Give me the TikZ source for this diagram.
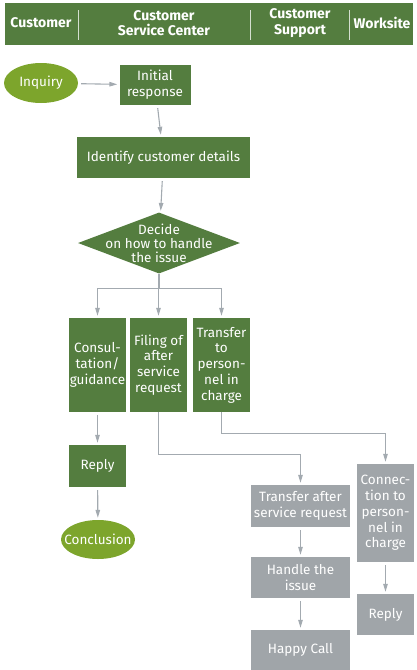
\documentclass[tikz,border=0pt]{standalone}
\usepackage{fontspec}
\setmainfont{Fira Sans}
\usetikzlibrary{shapes.geometric,arrows.meta}
\definecolor{leaf}{HTML}{547D3F}
\definecolor{olive}{HTML}{7DA52C}
\definecolor{slate}{HTML}{A0A5A9}
\definecolor{wire}{HTML}{A3AAB0}
\tikzset{
  hdr/.style={text=white,align=center,font=\fontsize{14}{15.5}\selectfont\bfseries},
  gbox/.style={fill=leaf,text=white,align=center,inner sep=0pt,font=\fontsize{13.5}{15.8}\selectfont},
  sbox/.style={fill=slate,text=white,align=center,inner sep=0pt,font=\fontsize{13.5}{15.8}\selectfont},
  oval/.style={ellipse,fill=olive,text=white,inner sep=0pt,font=\fontsize{13.5}{15.8}\selectfont},
  arr/.style={draw=wire,line width=1.1pt,-{Triangle[length=8pt,width=4.5pt]},shorten >=2pt},
  wireline/.style={draw=wire,line width=1.1pt}
}
\begin{document}
\begin{tikzpicture}[x=1pt,y=-1pt]
  \useasboundingbox (0,0) rectangle (417,670);
  % header
  \fill[leaf] (5,3) rectangle (413,45);
  \draw[white!75!leaf,line width=0.8pt] (78,10) -- (78,40) (250,10) -- (250,40) (349,10) -- (349,40);
  \node[hdr] (hcus) at (41,23) {Customer};
  \node[hdr] (hcsc) at (164,23) {Customer\\Service Center};
  \node[hdr] (hsup) at (300,23) {Customer\\Support};
  \node[hdr] (hwork) at (382,23) {Worksite};
  % nodes
  \node[oval,minimum width=74pt,minimum height=40pt] (inq) at (41,83) {Inquiry};
  \node[gbox,minimum width=71pt,minimum height=40pt] (ini) at (155,85) {Initial\\response};
  \node[gbox,minimum width=173pt,minimum height=41pt] (idc) at (163.5,157.5) {Identify customer details};
  \node[diamond,fill=leaf,minimum width=162pt,minimum height=61pt,inner sep=0pt] (dec) at (159,243) {};
  \node[text=white,align=center,font=\fontsize{13.5}{14}\selectfont] (declbl) at (dec) {Decide\\on how to handle\\the issue};
  \node[gbox,minimum width=57pt,minimum height=94pt] (con) at (97.5,365) {Consul-\\tation/\\guidance};
  \node[gbox,minimum width=57pt,minimum height=94pt] (fil) at (158.5,365) {Filing of\\after\\service\\request};
  \node[gbox,minimum width=57pt,minimum height=94pt] (tra) at (221.5,365) {Transfer\\to\\person-\\nel in\\charge};
  \node[gbox,minimum width=57pt,minimum height=42pt] (rep) at (97.5,466) {Reply};
  \node[oval,inner xsep=-10pt,minimum width=74pt,minimum height=39pt] (end) at (98,539.5) {Conclusion};
  \node[sbox,minimum width=99pt,minimum height=42pt] (tas) at (300.5,506) {Transfer after\\service request};
  \node[sbox,minimum width=99pt,minimum height=41pt] (han) at (300.5,577.5) {Handle the\\issue};
  \node[sbox,minimum width=99pt,minimum height=40pt] (hap) at (300.5,650) {Happy Call};
  \node[sbox,minimum width=57pt,minimum height=98pt] (cnt) at (385.5,513) {Connec-\\tion to\\person-\\nel in\\charge};
  \node[sbox,minimum width=57pt,minimum height=41pt] (rep2) at (385.5,614.5) {Reply};
  % connectors
  \draw[arr,shorten <=3pt] (inq) -- (ini);
  \draw[arr,shorten <=3pt] (ini) -- (idc);
  \draw[arr,shorten <=3pt] (idc) -- (dec);
  \draw[wireline] (dec.south) -- ++(0,15) coordinate (fork);
  \draw[arr] (fork) -| (con.north);
  \draw[arr] (fork) -- (fork -| fil.north) -- (fil.north);
  \draw[arr] (fork) -| (tra.north);
  \draw[arr,shorten <=3pt] (con) -- (rep);
  \draw[arr,shorten <=3pt] (rep) -- (end);
  \draw[arr] (fil.south) -- ++(0,42) -| (tas.north);
  \draw[arr] (tra.south) -- ++(0,21) -| (cnt.north);
  \draw[arr,shorten <=3pt] (tas) -- (han);
  \draw[arr,shorten <=3pt] (han) -- (hap);
  \draw[arr,shorten <=3pt] (cnt) -- (rep2);
\end{tikzpicture}
\end{document}
